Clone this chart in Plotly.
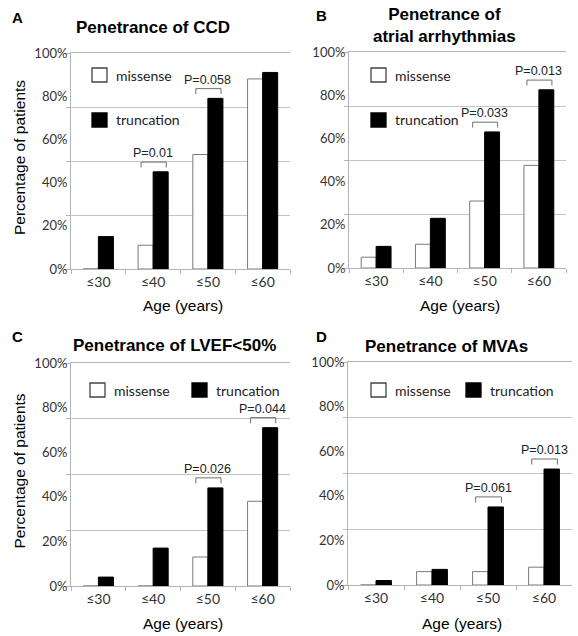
import plotly.graph_objects as go

# ---------------- data ----------------
AGE_GROUPS = ["≤30", "≤40", "≤50", "≤60"]

CCD_MISSENSE = [0, 11, 53, 88]
CCD_TRUNCATION = [15, 45, 79, 91]
CCD_PVALUES = {"≤40": "P=0.01", "≤50": "P=0.058"}

ATRIAL_MISSENSE = [5, 11, 31, 47.5]
ATRIAL_TRUNCATION = [10, 23, 63, 82.5]
ATRIAL_PVALUES = {"≤50": "P=0.033", "≤60": "P=0.013"}

LVEF_MISSENSE = [0, 0, 13, 38]
LVEF_TRUNCATION = [4, 17, 44, 71]
LVEF_PVALUES = {"≤50": "P=0.026", "≤60": "P=0.044"}

MVA_MISSENSE = [0, 6, 6, 8]
MVA_TRUNCATION = [2, 7, 35, 52]
MVA_PVALUES = {"≤50": "P=0.061", "≤60": "P=0.013"}

Y_TICK_VALUES = [0, 20, 40, 60, 80, 100]
Y_TICK_LABELS = ["0%", "20%", "40%", "60%", "80%", "100%"]
SERIES_NAMES = ["missense", "truncation"]

# ---------------- layout helpers ----------------
W, H = 578, 636
def px(x):
    return x / W
def py(y):
    return 1 - y / H

TITLE_FONT = "Liberation Sans, Arial"
BOLD_FONT = "Liberation Sans, Arial"
TICK_FONT = "Lato, Calibri, Open Sans, sans-serif"
AXIS_GRAY = "#b4b4b4"
GRID_GRAY = "#c4c4c4"

panels = [
    dict(letter="A", letter_xy=(17, 18), title="Penetrance of CCD", title_xy=(153, 28),
         miss=CCD_MISSENSE, trunc=CCD_TRUNCATION, pvals=CCD_PVALUES,
         xd=(71, 290), yd=(53, 269), ytitle=True, xtitle_y=305,
         legend="vertical", leg_x=92, leg_y=(75, 120)),
    dict(letter="B", letter_xy=(321, 15), title="Penetrance of<br>atrial arrhythmias", title_xy=(444, 26),
         miss=ATRIAL_MISSENSE, trunc=ATRIAL_TRUNCATION, pvals=ATRIAL_PVALUES,
         xd=(349, 566), yd=(52, 268), ytitle=False, xtitle_y=305,
         legend="vertical", leg_x=371, leg_y=(75, 120)),
    dict(letter="C", letter_xy=(17, 336), title="Penetrance of LVEF<50%", title_xy=(174, 345),
         miss=LVEF_MISSENSE, trunc=LVEF_TRUNCATION, pvals=LVEF_PVALUES,
         xd=(71, 290), yd=(363, 586), ytitle=True, xtitle_y=623,
         legend="horizontal", leg_x=(90, 192), leg_y=390),
    dict(letter="D", letter_xy=(321, 336), title="Penetrance of MVAs", title_xy=(446, 346),
         miss=MVA_MISSENSE, trunc=MVA_TRUNCATION, pvals=MVA_PVALUES,
         xd=(348, 572), yd=(362, 585), ytitle=False, xtitle_y=623,
         legend="horizontal", leg_x=(371, 466), leg_y=390),
]

fig = go.Figure()
annotations = []
shapes = []
layout_axes = {}

MISS_STYLE = dict(color="white", line=dict(color="#7a7a7a", width=1))
TRUNC_STYLE = dict(color="black", line=dict(color="black", width=1))

def paper_text(x, y, text, font, **kw):
    d = dict(x=px(x), y=py(y), xref="paper", yref="paper", text=text, showarrow=False,
             xanchor="center", yanchor="middle", font=font)
    d.update(kw)
    annotations.append(d)

def legend_item(x, yc, fill, line, text):
    shapes.append(dict(type="rect", xref="paper", yref="paper",
                       x0=px(x), x1=px(x + 15), y0=py(yc + 7), y1=py(yc - 7),
                       fillcolor=fill, line=dict(color=line, width=1.3)))
    paper_text(x + 22, yc, text, dict(family=TICK_FONT, size=14, color="#222"), xanchor="left")

for i, p in enumerate(panels, start=1):
    xa = "x" if i == 1 else f"x{i}"
    ya = "y" if i == 1 else f"y{i}"
    xkey = "xaxis" if i == 1 else f"xaxis{i}"
    ykey = "yaxis" if i == 1 else f"yaxis{i}"

    fig.add_trace(go.Bar(x=AGE_GROUPS, y=p["miss"], name=SERIES_NAMES[0], xaxis=xa, yaxis=ya,
                         marker=MISS_STYLE, showlegend=False))
    fig.add_trace(go.Bar(x=AGE_GROUPS, y=p["trunc"], name=SERIES_NAMES[1], xaxis=xa, yaxis=ya,
                         marker=TRUNC_STYLE, showlegend=False))

    layout_axes[xkey] = dict(
        domain=[px(p["xd"][0]), px(p["xd"][1])], anchor=ya, type="category",
        range=[-0.5, 3.5], showline=True, linecolor=AXIS_GRAY, linewidth=1, mirror=True,
        ticks="outside", tickson="boundaries", ticklen=4, tickcolor=AXIS_GRAY,
        tickfont=dict(family=TICK_FONT, size=14, color="#333"), showgrid=False,
        fixedrange=True,
    )
    layout_axes[ykey] = dict(
        domain=[py(p["yd"][1]), py(p["yd"][0])], anchor=xa, range=[0, 100],
        tickmode="array", tickvals=Y_TICK_VALUES, ticktext=Y_TICK_LABELS, ticks="",
        showgrid=False, zeroline=False, showline=True, linecolor=AXIS_GRAY, linewidth=1,
        tickfont=dict(family=TICK_FONT, size=13, color="#333"),
        minor=dict(tick0=0, dtick=25, ticks="outside", ticklen=4, tickcolor=AXIS_GRAY,
                   showgrid=True, gridcolor=GRID_GRAY, gridwidth=1),
        fixedrange=True,
    )

    # panel letter and title
    paper_text(*p["letter_xy"], f"<b>{p['letter']}</b>", dict(family=BOLD_FONT, size=15, color="black"))
    paper_text(*p["title_xy"], f"<b>{p['title']}</b>", dict(family=TITLE_FONT, size=17, color="black"))
    # axis titles
    paper_text((p["xd"][0] + p["xd"][1]) / 2 + 2, p["xtitle_y"], "Age (years)",
               dict(family=TITLE_FONT, size=15.5, color="black"))
    if p["ytitle"]:
        paper_text(19, (p["yd"][0] + p["yd"][1]) / 2 - 3, "Percentage of patients",
                   dict(family=TITLE_FONT, size=15.5, color="black"), textangle=-90)

    # p-value brackets
    for cat, label in p["pvals"].items():
        k = AGE_GROUPS.index(cat)
        top = max(p["miss"][k], p["trunc"][k]) + 4.5
        end = top - 2.5
        x0, x1 = k - 0.22, k + 0.24
        for (a, b, c, d) in [(x0, end, x0, top), (x0, top, x1, top), (x1, top, x1, end)]:
            shapes.append(dict(type="line", xref=xa, yref=ya, x0=a, y0=b, x1=c, y1=d,
                               line=dict(color="#6e6e6e", width=1)))
        annotations.append(dict(x=cat, y=top, xref=xa, yref=ya, text=label, showarrow=False,
                                xanchor="center", yanchor="bottom", yshift=0,
                                font=dict(family=TITLE_FONT, size=12.5, color="#222")))

    # legend
    if p["legend"] == "vertical":
        legend_item(p["leg_x"], p["leg_y"][0], "white", "#444", SERIES_NAMES[0])
        legend_item(p["leg_x"], p["leg_y"][1], "black", "black", SERIES_NAMES[1])
    else:
        legend_item(p["leg_x"][0], p["leg_y"], "white", "#444", SERIES_NAMES[0])
        legend_item(p["leg_x"][1], p["leg_y"], "black", "black", SERIES_NAMES[1])

fig.update_layout(
    width=W, height=H, margin=dict(l=0, r=0, t=0, b=0, autoexpand=False),
    paper_bgcolor="white", plot_bgcolor="white",
    barmode="group", bargap=0.45, bargroupgap=0,
    showlegend=False, annotations=annotations, shapes=shapes,
    **layout_axes,
)

# the page body's default 8px margin would push the 578x636 figure off the window
fig.write_html("out.html", config={"displayModeBar": False},
               post_script="document.body.style.margin='0px';")
